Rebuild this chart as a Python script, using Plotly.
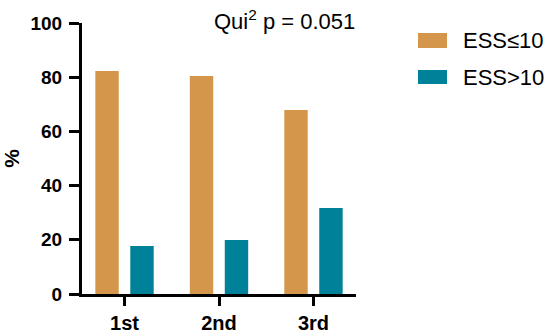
import plotly.graph_objects as go

categories = ["1st", "2nd", "3rd"]
series_names = ["ESS≤10", "ESS>10"]
ess_le10 = [82.3, 80.4, 67.9]
ess_gt10 = [17.7, 19.9, 31.7]
y_ticks = [0, 20, 40, 60, 80, 100]
colors = ["#D4964B", "#00819A"]
annotation_text = "Qui<sup>2</sup> p = 0.051"

W, H = 550, 334
L, R, T, B = 82, 194, 23, 40
pw, ph = W - L - R, H - T - B

def px_x(x):
    return (x - L) / pw

def px_y(y):
    return (H - B - y) / ph

fig = go.Figure()
for name, vals, col in zip(series_names, [ess_le10, ess_gt10], colors):
    fig.add_trace(go.Bar(x=categories, y=vals, name=name, marker_color=col,
                         marker_line_width=0, showlegend=False))

font_family = "Liberation Sans, Arial, sans-serif"
fig.update_layout(
    width=W, height=H,
    margin=dict(l=L, r=R, t=T, b=B, pad=0, autoexpand=False),
    plot_bgcolor="white", paper_bgcolor="white",
    barmode="group", bargap=0.26, bargroupgap=0.33,
    font=dict(family=font_family, color="black"),
)
fig.update_xaxes(
    type="category", range=[-0.45, 2.45], automargin=False,
    showline=True, linecolor="black", linewidth=3,
    ticks="outside", ticklen=9, tickwidth=3, tickcolor="black",
    tickfont=dict(size=20, weight="bold", family=font_family),
    showgrid=False, zeroline=False, ticklabelstandoff=0,
)
fig.update_yaxes(
    range=[0, 100], tickvals=y_ticks, automargin=False,
    showline=True, linecolor="black", linewidth=3,
    ticks="outside", ticklen=10, tickwidth=3, tickcolor="black",
    tickfont=dict(size=19, weight="bold", family=font_family),
    showgrid=False, zeroline=False, ticklabelstandoff=3,
    title=dict(text="%", font=dict(size=21, weight="bold", family=font_family), standoff=14),
)

fig.add_annotation(text=annotation_text, xref="paper", yref="paper",
                   x=px_x(357), y=px_y(20), xanchor="right", yanchor="middle",
                   showarrow=False, font=dict(size=22, family=font_family))

# legend drawn as swatches + labels
rows = [(33, 48), (70, 84)]
for (y0, y1), name, col in zip(rows, series_names, colors):
    fig.add_shape(type="rect", xref="paper", yref="paper",
                  x0=px_x(418), x1=px_x(447), y0=px_y(y1), y1=px_y(y0),
                  fillcolor=col, line_width=0)
    fig.add_annotation(text=name, xref="paper", yref="paper",
                       x=px_x(461), y=px_y((y0 + y1) / 2), xanchor="left", yanchor="middle",
                       showarrow=False, font=dict(size=22, family=font_family))

fig.write_html("out.html", post_script="document.body.style.margin='0';",
               config={"displayModeBar": False})
